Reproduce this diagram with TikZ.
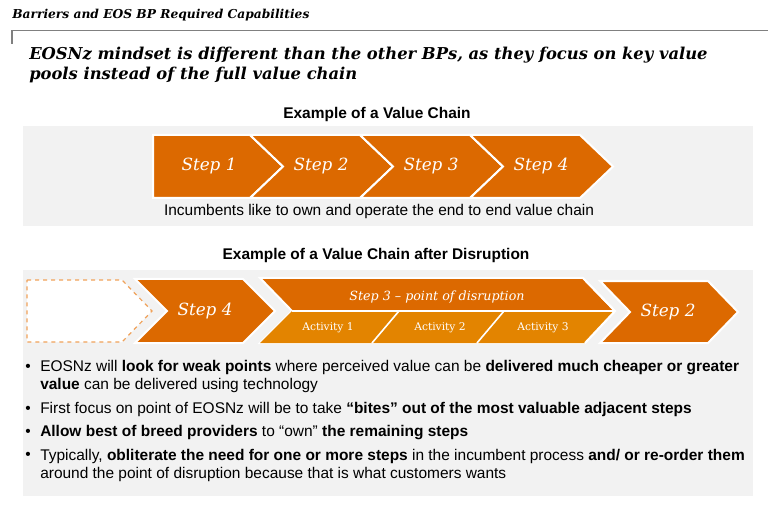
\documentclass[tikz,border=0pt]{standalone}
\usepackage{fontspec}
\setmainfont{Liberation Sans}
\newfontfamily\serifgeo{DejaVu Serif}
\usetikzlibrary{positioning}
\definecolor{ChainOrange}{HTML}{DC6900}
\definecolor{ChainAmber}{HTML}{E38400}
\definecolor{PanelGrey}{HTML}{F2F2F2}
\definecolor{RuleGrey}{HTML}{808080}
\definecolor{DashOrange}{HTML}{F0A25A}

\begin{document}
\begin{tikzpicture}[x=0.75pt,y=-0.75pt,
  chev/.style={fill=ChainOrange, draw=white, line width=1.5pt, line join=miter},
  steplabel/.style={text=white, font=\serifgeo\itshape\fontsize{12.6}{15}\selectfont},
  actlabel/.style={text=white, font=\serifgeo\fontsize{8}{9}\selectfont},
  heading/.style={font=\bfseries\fontsize{11.6}{13}\selectfont},
  body/.style={font=\fontsize{11.6}{13}\selectfont, anchor=west, inner sep=0pt},
  dot/.style={font=\fontsize{11.6}{13}\selectfont, inner sep=0pt}]
\useasboundingbox (0,0) rectangle (768,506);

% title and rule
\node[anchor=west, inner sep=0pt, font=\serifgeo\bfseries\itshape\fontsize{9.2}{10}\selectfont] (title) at (12,15) {Barriers and EOS BP Required Capabilities};
\draw[RuleGrey, line width=1.1pt] (12,44) -- (12,30.5) -- (768,30.5);
\node[anchor=west, inner sep=0pt, align=left, font=\serifgeo\bfseries\itshape\fontsize{12.25}{14.5}\selectfont] (headline) at (29,65)
  {EOSNz mindset is different than the other BPs, as they focus on key value\\pools instead of the full value chain};

% value chain
\node[heading] (head1) at (377,115) {Example of a Value Chain};
\fill[PanelGrey] (23,126) rectangle (753,226);
\draw[chev] (153,135) -- (250,135) -- (283,166.5) -- (250,198) -- (153,198) -- cycle;
\node[steplabel] (step1) at (209,166.5) {Step 1};
\foreach \i in {2,3,4} {
  \pgfmathsetmacro\xa{250+110*(\i-2)}
  \draw[chev] (\xa,135) -- (\xa+110,135) -- (\xa+143,166.5) -- (\xa+110,198) -- (\xa,198) -- (\xa+33,166.5) -- cycle;
  \node[steplabel] (step\i) at (\xa+71,166.5) {Step \i};
}
\node[font=\fontsize{11.6}{13}\selectfont] (incumbents) at (379,212) {Incumbents like to own and operate the end to end value chain};

% value chain after disruption
\node[heading] (head2) at (376,256) {Example of a Value Chain after Disruption};
\fill[PanelGrey] (23,270) rectangle (753,496);
\draw[DashOrange, fill=white, line width=0.9pt, dashed] (27,280) -- (122,280) -- (152,311) -- (122,342) -- (27,342) -- cycle;
\draw[chev] (135,279) -- (243,279) -- (275,311) -- (243,343) -- (135,343) -- (167,311) -- cycle;
\node[steplabel] (late4) at (205,311) {Step 4};
\draw[chev] (260,278) -- (583,278) -- (615,311) -- (585,343) -- (260,343) -- (292,311) -- cycle;
\fill[ChainAmber] (292,311) -- (615,311) -- (585,343) -- (260,343) -- cycle;
\draw[white, line width=1.2pt] (292,311) -- (615,311);
\draw[white, line width=1.2pt] (372,343) -- (399,311);
\draw[white, line width=1.2pt] (477,343) -- (504,311);
\draw[white, line width=1.5pt, line join=miter] (583,278) -- (615,311) -- (585,343);
\node[steplabel, font=\serifgeo\itshape\fontsize{9.5}{11}\selectfont] (late3) at (437,297.5) {Step 3 – point of disruption};
\node[actlabel] (act1) at (328,328) {Activity 1};
\node[actlabel] (act2) at (440,328) {Activity 2};
\node[actlabel] (act3) at (543,328) {Activity 3};
\draw[chev] (600,281) -- (708,281) -- (738,312) -- (708,343) -- (600,343) -- (630,312) -- cycle;
\node[steplabel] (late2) at (668,312) {Step 2};

% bullets
\node[dot] (d1) at (28,368) {•};
\node[body] (b1) at (40,368) {EOSNz will \textbf{look for weak points} where perceived value can be \textbf{delivered much cheaper or greater}};
\node[body] (b1x) at (40,386) {\textbf{value} can be delivered using technology};
\node[dot] (d2) at (28,410) {•};
\node[body] (b2) at (40,410) {First focus on point of EOSNz will be to take \textbf{“bites” out of the most valuable adjacent steps}};
\node[dot] (d3) at (28,433) {•};
\node[body] (b3) at (40,433) {\textbf{Allow best of breed providers} to “own” \textbf{the remaining steps}};
\node[dot] (d4) at (28,456) {•};
\node[body] (b4) at (40,456) {Typically, \textbf{obliterate the need for one or more steps} in the incumbent process \textbf{and/ or re-order them}};
\node[body] (b4x) at (40,474) {around the point of disruption because that is what customers wants};
\end{tikzpicture}
\end{document}
